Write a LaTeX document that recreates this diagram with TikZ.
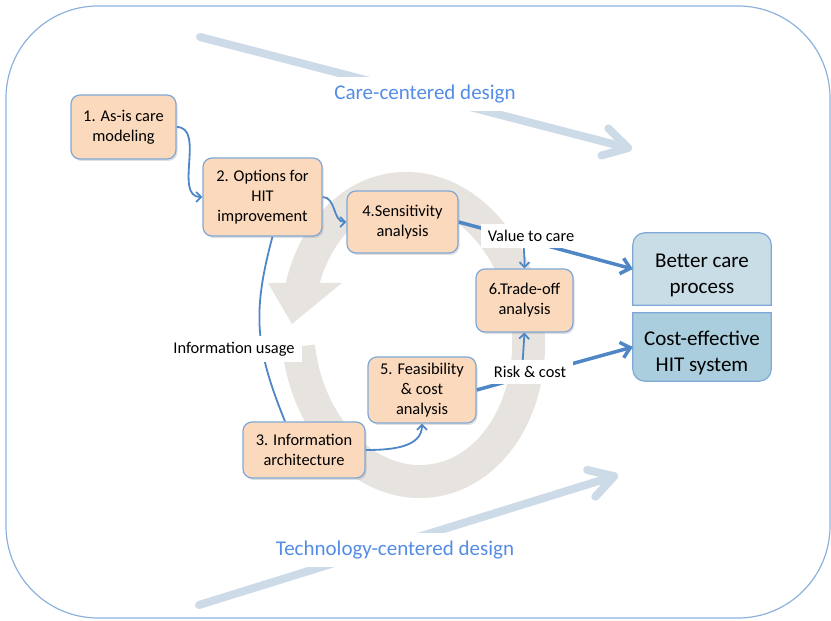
\documentclass[tikz,border=0pt]{standalone}
\usepackage{fontspec}
\setmainfont{Carlito}
\usetikzlibrary{shapes,shadows,arrows.meta}

\definecolor{boxorange}{RGB}{251,217,188}
\definecolor{boxedge}{RGB}{128,168,214}
\definecolor{careblue}{RGB}{200,221,230}
\definecolor{hitblue}{RGB}{170,206,221}
\definecolor{linkblue}{RGB}{79,134,198}
\definecolor{ringgray}{RGB}{231,228,224}
\definecolor{bandblue}{RGB}{205,218,232}
\definecolor{titleblue}{RGB}{84,141,230}
\definecolor{frameblue}{RGB}{140,178,220}

\pgfdeclarelayer{back}
\pgfdeclarelayer{lines}
\pgfsetlayers{back,lines,main}

\newcommand{\lowtext}[1]{\raisebox{-6pt}[\height][\depth]{\begin{tabular}{@{}c@{}}#1\end{tabular}}}

\begin{document}
\begin{tikzpicture}[x=1pt,y=1pt]
\tikzset{
stage/.style={rectangle,rounded corners=9pt,draw=boxedge,line width=1.2pt,fill=boxorange,
align=center,inner sep=2pt,font=\fontsize{16.4}{20}\selectfont,
drop shadow={opacity=0.25,shadow xshift=1.5pt,shadow yshift=-2pt}},
outcome/.style={rectangle,inner sep=0pt,minimum width=138pt,font=\fontsize{21}{26}\selectfont},
outline/.style={draw=boxedge,line width=1.2pt},
mylabel/.style={fill=white,inner xsep=7pt,inner ysep=6pt,font=\fontsize{16.4}{20}\selectfont},
bandlabel/.style={fill=white,text=titleblue,inner xsep=6pt,inner ysep=8pt,font=\fontsize{21}{26}\selectfont},
flowline/.style={draw=linkblue,line width=1.8pt},
flowarrow/.style={flowline,-{Straight Barb[length=5pt,width=10pt]}},
thickarrow/.style={draw=linkblue,line width=3.5pt,-{Straight Barb[length=9pt,width=16pt]}},
bandarrow/.style={draw=bandblue,line width=8pt,line cap=round,-{Straight Barb[length=24pt,width=28pt,round]}},
}
\useasboundingbox (0,0) rectangle (831,621);

% steps
\node[stage,minimum width=105pt,minimum height=64pt] (asis) at (123.5,494) {1. As-is care\\modeling};
\node[stage,minimum width=119pt,minimum height=78pt] (options) at (262.5,424) {2. Options for\\HIT\\improvement};
\node[stage,minimum width=111pt,minimum height=62pt] (sens) at (402.5,399) {4.Sensitivity\\analysis};
\node[stage,minimum width=97pt,minimum height=63pt] (trade) at (524.5,320.5) {6.Trade-off\\analysis};
\node[stage,minimum width=108pt,minimum height=66pt] (feas) at (422,231) {5. Feasibility\\\& cost\\analysis};
\node[stage,minimum width=122pt,minimum height=56pt] (infoarch) at (304,171) {3. Information\\architecture};

% results
\node[outcome,minimum height=72pt] (better) at (702,352) {\lowtext{Better care\\process}};
\node[outcome,minimum height=68pt] (cost) at (702,274) {\lowtext{Cost-effective\\HIT system}};

% labels
\node[mylabel] (usage) at (234,272) {Information usage};
\node[mylabel] (valuecare) at (531,385) {Value to care};
\node[mylabel] (riskcost) at (530,249) {Risk \& cost};
\node[bandlabel] (caretext) at (425,527) {Care-centered design};
\node[bandlabel] (techtext) at (395,71) {Technology-centered design};

\coordinate (carestart) at (200,584);
\coordinate (careend) at (632,472);
\coordinate (techstart) at (199,16);
\coordinate (techend) at (618,146);

\begin{pgfonlayer}{back}
\draw[frameblue,line width=1.2pt,rounded corners=92pt] (6,3) rectangle (830,615);
\draw[bandarrow] (carestart) -- (careend);
\draw[bandarrow] (techstart) -- (techend);
% circular arrow
\begin{scope}[shift={(413,286)},rotate=7]
\draw[ringgray,line width=33pt] (-181:115 and 147) arc[start angle=-181,end angle=159,x radius=115,y radius=147];
\fill[ringgray] (-137.6,69.3) -- (-64.1,60.3) -- (-118.8,25.7) -- cycle;
\end{scope}
\end{pgfonlayer}

\begin{pgfonlayer}{lines}
\filldraw[outline,fill=careblue] (better.south west) -- ([yshift=-12pt]better.north west)
  arc[start angle=180,end angle=90,radius=12pt] -- ([xshift=-12pt]better.north east)
  arc[start angle=90,end angle=0,radius=12pt] -- (better.south east) -- cycle;
\filldraw[outline,fill=hitblue] (cost.north west) -- ([yshift=12pt]cost.south west)
  arc[start angle=180,end angle=270,radius=12pt] -- ([xshift=-12pt]cost.south east)
  arc[start angle=270,end angle=360,radius=12pt] -- (cost.north east) -- cycle;
\draw[flowarrow] (asis.east) to[out=0,in=180] (options.west);
\draw[flowarrow] (options.east) to[out=0,in=180] (sens.west);
\draw[flowline] ([xshift=10pt]options.south) to[out=-105,in=112,looseness=1.1] ([xshift=-19pt]infoarch.north);
\draw[flowarrow] (infoarch.east) to[out=0,in=-90] (feas.south);
\draw[thickarrow] (sens.east) -- (better.west);
\draw[thickarrow] (feas.east) -- (cost.west);
\draw[flowarrow] ([xshift=-9pt]valuecare.center) to[out=-80,in=90] (trade.north);
\draw[flowarrow] ([xshift=-8pt]riskcost.center) -- (trade.south);
\end{pgfonlayer}
\end{tikzpicture}
\end{document}
